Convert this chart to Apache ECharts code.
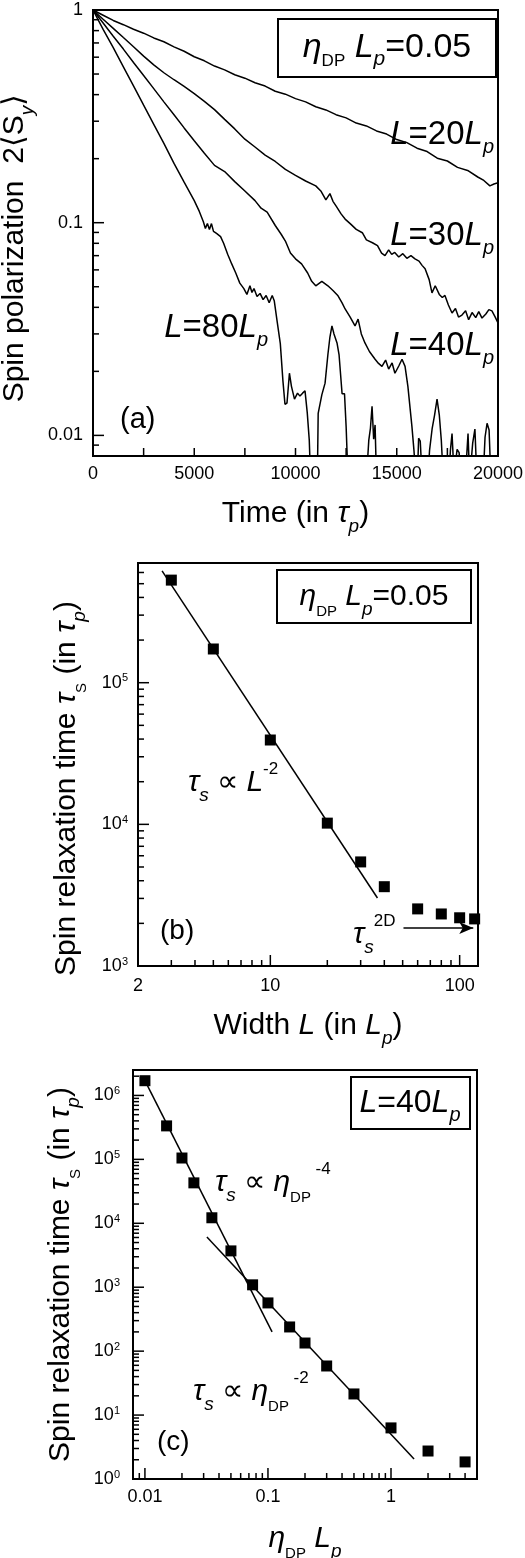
<!DOCTYPE html>
<html>
<head>
<meta charset="utf-8">
<title>Spin relaxation</title>
<script src="https://cdn.jsdelivr.net/npm/echarts@6.0.0/dist/echarts.min.js"></script>
<style>
  html, body { margin: 0; padding: 0; background: #fff; }
  #chart { width: 525px; height: 1558px; }
</style>
</head>
<body>
<div id="chart"></div>
<script>
var FONT = '"Liberation Sans", Arial, Helvetica, sans-serif';

// (a) spin polarization 2<Sy> vs time (in tau_p), one curve per wire width
var curveL20 = [
  [0, 1], [500, 0.945], [1000, 0.893], [1500, 0.853], [2000, 0.812], [2500, 0.778], [3000, 0.739],
  [3500, 0.709], [4000, 0.671], [4500, 0.640], [5000, 0.603], [5500, 0.577], [6000, 0.545],
  [6500, 0.523], [7000, 0.496], [7500, 0.478], [8000, 0.455], [8500, 0.439], [9000, 0.415],
  [9500, 0.402], [10000, 0.383], [10500, 0.370], [11000, 0.351], [11500, 0.339], [12000, 0.322],
  [12500, 0.311], [13000, 0.294], [13500, 0.285], [14000, 0.270], [14500, 0.261], [15000, 0.246],
  [15500, 0.238], [16000, 0.224], [16500, 0.216], [17000, 0.201], [17500, 0.195], [18000, 0.182],
  [18500, 0.176], [19000, 0.164], [19300, 0.158], [19600, 0.149], [19800, 0.152], [20000, 0.154]
];
var curveL30 = [
  [0, 1], [500, 0.905], [1000, 0.82], [1500, 0.742], [2000, 0.672], [2500, 0.607], [3000, 0.552],
  [3500, 0.507], [4000, 0.47], [4500, 0.437], [5000, 0.404], [5500, 0.372], [6000, 0.34],
  [6500, 0.306], [7000, 0.276], [7500, 0.247], [8000, 0.227], [8500, 0.208], [9000, 0.194],
  [9500, 0.178], [10000, 0.167], [10500, 0.157], [11000, 0.149], [11250, 0.141], [11500, 0.128],
  [11700, 0.137], [11850, 0.126], [12000, 0.12], [12250, 0.11], [12450, 0.104], [12700, 0.099],
  [13000, 0.093], [13300, 0.0897], [13500, 0.083], [13800, 0.0805], [14050, 0.078], [14250, 0.072],
  [14420, 0.070], [14600, 0.0745], [14750, 0.071], [14900, 0.0725], [15100, 0.069], [15300, 0.0715],
  [15500, 0.068], [15700, 0.070], [15900, 0.0676], [16100, 0.066], [16250, 0.063], [16400, 0.0607],
  [16600, 0.054], [16740, 0.0468], [16900, 0.0505], [17100, 0.046], [17250, 0.0445], [17380, 0.0455],
  [17550, 0.041], [17730, 0.0376], [17900, 0.0395], [18050, 0.036], [18220, 0.0368], [18400, 0.0385],
  [18550, 0.035], [18720, 0.0378], [18900, 0.0358], [19050, 0.0382], [19210, 0.0356], [19400, 0.0372],
  [19550, 0.039], [19700, 0.0385], [19850, 0.0362], [20000, 0.0338]
];
var curveL40 = [
  [0, 1], [500, 0.868], [1000, 0.752], [1500, 0.655], [2000, 0.566], [2500, 0.492], [3000, 0.427],
  [3500, 0.37], [4000, 0.322], [4500, 0.279], [5000, 0.243], [5500, 0.212], [6000, 0.186],
  [6500, 0.174], [7000, 0.156], [7500, 0.141], [8000, 0.127], [8300, 0.117], [8600, 0.112],
  [9000, 0.097], [9300, 0.088], [9500, 0.082], [9750, 0.072], [10000, 0.0676], [10300, 0.064],
  [10600, 0.058], [10800, 0.053], [11000, 0.0505], [11300, 0.053], [11600, 0.0505], [11850, 0.048],
  [12100, 0.0453], [12300, 0.042], [12450, 0.0393], [12700, 0.036], [12940, 0.0327], [13090, 0.0352],
  [13250, 0.030], [13430, 0.0272], [13650, 0.0248], [13930, 0.0228], [14100, 0.0218], [14270, 0.0211],
  [14450, 0.0226], [14600, 0.0205], [14770, 0.0219], [14910, 0.0196], [15100, 0.0212], [15260, 0.0228],
  [15410, 0.0211], [15550, 0.017], [15750, 0.011], [15850, 0.0085], [15950, 0.0062], [16000, 0.0055],
  [16080, 0.0097], [16160, 0.0094], [16260, 0.0062], [16500, 0.0055], [16620, 0.0085], [16750, 0.0108],
  [16870, 0.0125], [16990, 0.0148], [17100, 0.0125], [17200, 0.0095], [17300, 0.0062], [17550, 0.0058],
  [17650, 0.0085], [17730, 0.0102], [17830, 0.0065], [17980, 0.0086], [18080, 0.0083], [18180, 0.006],
  [18400, 0.0066], [18520, 0.0102], [18600, 0.0062], [18750, 0.0092], [18860, 0.0107], [18960, 0.0062],
  [19250, 0.0058], [19360, 0.0098], [19460, 0.0114], [19560, 0.0106], [19650, 0.0062], [20000, 0.0055]
];
var curveL80 = [
  [0, 1], [500, 0.81], [1000, 0.665], [1500, 0.54], [2000, 0.44], [2500, 0.357], [3000, 0.29],
  [3500, 0.236], [4000, 0.19], [4500, 0.155], [5000, 0.127], [5250, 0.113], [5450, 0.101],
  [5550, 0.094], [5650, 0.099], [5750, 0.093], [5850, 0.099], [5950, 0.091], [6100, 0.089],
  [6300, 0.086], [6450, 0.08], [6650, 0.071], [6850, 0.064], [7050, 0.058], [7250, 0.052],
  [7450, 0.049], [7600, 0.046], [7750, 0.0505], [7850, 0.047], [7950, 0.049], [8100, 0.045],
  [8250, 0.0465], [8400, 0.0435], [8550, 0.0455], [8700, 0.042], [8850, 0.0455], [8950, 0.043],
  [9100, 0.034], [9250, 0.027], [9380, 0.018], [9480, 0.014], [9580, 0.0142], [9700, 0.0196],
  [9800, 0.017], [9950, 0.0148], [10100, 0.0158], [10220, 0.0153], [10350, 0.0158], [10470, 0.0162],
  [10580, 0.0128], [10680, 0.0095], [10750, 0.006], [10950, 0.005], [11080, 0.0062], [11120, 0.0127],
  [11300, 0.0155], [11460, 0.0176], [11600, 0.024], [11700, 0.029], [11800, 0.0327], [11900, 0.03],
  [12050, 0.0272], [12150, 0.024], [12300, 0.0157], [12420, 0.0157], [12500, 0.011], [12600, 0.006],
  [12900, 0.0045], [13400, 0.0048], [13500, 0.0062], [13620, 0.0095], [13700, 0.0108], [13780, 0.0137],
  [13860, 0.0096], [13930, 0.0112], [14000, 0.0062], [14300, 0.0045]
];

// (b) spin relaxation time vs wire width
var widthL = [3, 5, 10, 20, 30, 40, 60, 80, 100, 120];
var tauWidth = [5.3e5, 1.73e5, 3.94e4, 1.02e4, 5.43e3, 3.63e3, 2.53e3, 2.33e3, 2.19e3, 2.15e3];
var fitWidth = [[2.68, 6.16e5], [36.8, 3.02e3]];
var arrow2D = [[50.5, 1855], [118, 1855]];

// (c) spin relaxation time vs eta_DP L_p
var etaDP = [0.01, 0.015, 0.02, 0.025, 0.035, 0.05, 0.075, 0.1, 0.15, 0.2, 0.3, 0.5, 1, 2, 4];
var tauEta = [1.7e6, 3.34e5, 1.05e5, 4.29e4, 1.22e4, 3.7e3, 1.09e3, 568, 239, 134, 58.6, 21.4, 6.3, 2.74, 1.85];
var fitEta4 = [[0.01, 1.7e6], [0.108, 200]];
var fitEta2 = [[0.0319, 6.1e3], [1.54, 2.06]];

// ticks and labels
var timeTicks = [0, 2500, 5000, 7500, 10000, 12500, 15000, 17500, 20000];
var timeLabels = [0, 5000, 10000, 15000, 20000];
var polDecades = [0.01, 0.1, 1];
var widthDecades = [10, 100];
var widthLabels = [2, 10, 100];
var tauBDecades = [1e3, 1e4, 1e5];
var etaDecades = [0.01, 0.1, 1];
var tauCDecades = [1, 10, 100, 1e3, 1e4, 1e5, 1e6];

// 2..9 x 10^n between min and max
function minorTicks(min, max) {
  var out = [];
  for (var d = Math.floor(Math.log10(min)); d <= Math.ceil(Math.log10(max)); d++) {
    for (var k = 2; k <= 9; k++) {
      var v = +(k * Math.pow(10, d)).toPrecision(2);
      if (v > min && v < max) out.push(v);
    }
  }
  return out;
}

// rich text styles: sub/superscripts are shifted with line heights
function richFor(size, lh) {
  function f(extra) {
    return Object.assign({ fontFamily: FONT, color: '#000', fill: '#000' }, extra);
  }
  var small = Math.round(size * 0.5);
  var smallI = Math.round(size * 0.62);
  var supS = Math.round(size * 0.56);
  return {
    t: f({ fontSize: size, lineHeight: lh }),
    i: f({ fontSize: size, lineHeight: lh, fontStyle: 'italic' }),
    dp: f({ fontSize: small, lineHeight: lh - 20, verticalAlign: 'bottom' }),
    p: f({ fontSize: smallI, lineHeight: lh - 16, verticalAlign: 'bottom', fontStyle: 'italic' }),
    sup: f({ fontSize: supS, lineHeight: lh - 16, verticalAlign: 'top' }),
    supH: f({ fontSize: supS, lineHeight: lh - 26, verticalAlign: 'top' }),
    supHi: f({ fontSize: supS, lineHeight: lh - 30, verticalAlign: 'top' })
  };
}

function powLabel(v) {
  return '10{sup|' + Math.round(Math.log10(v)) + '}';
}
function plainLabel(v) {
  return String(+(+v).toPrecision(2));
}

function mainAxis(o) {
  return {
    type: o.type, gridIndex: o.grid, min: o.min, max: o.max, position: o.pos, z: 4,
    name: o.name, nameLocation: 'middle', nameGap: o.nameGap,
    nameTextStyle: { fontFamily: FONT, fontSize: 30, lineHeight: 44, color: '#000',
      padding: [0, o.namePad || 0, 0, 0], rich: richFor(30, 44) },
    axisLine: { show: true, onZero: false, lineStyle: { color: '#000', width: 2 } },
    axisTick: { show: false },
    axisLabel: { show: true, customValues: o.labels, formatter: o.fmt, margin: o.margin,
      fontFamily: FONT, fontSize: 18, lineHeight: 20, color: '#000',
      rich: { sup: { fontFamily: FONT, fontSize: 11, lineHeight: 11, verticalAlign: 'top', color: '#000' } } },
    splitLine: { show: false },
    silent: true
  };
}

// inward tick marks, placed through the axes' own scales
function tickSeries(dir, xi, yi, edge, values, len) {
  return {
    type: 'custom', xAxisIndex: xi, yAxisIndex: yi, silent: true, z: 5, clip: false,
    data: values.map(function (v) { return dir === 'y' ? [edge, v] : [v, edge]; }),
    renderItem: function (params, api) {
      var p = api.coord([api.value(0), api.value(1)]);
      var shape = dir === 'y'
        ? { x1: p[0], y1: p[1], x2: p[0] + len, y2: p[1] }
        : { x1: p[0], y1: p[1], x2: p[0], y2: p[1] - len };
      return { type: 'line', shape: shape, style: { stroke: '#000', lineWidth: 1.5 } };
    }
  };
}

function note(x, y, text, size, align) {
  return {
    type: 'text', x: x, y: y, silent: true,
    style: {
      text: text, fill: '#000', fontFamily: FONT, fontSize: size,
      align: align, verticalAlign: 'middle', textAlign: align, textVerticalAlign: 'middle',
      rich: richFor(size, 44)
    }
  };
}
function box(x, y, w, h) {
  return {
    type: 'rect', silent: true, shape: { x: x, y: y, width: w, height: h },
    style: { fill: 'transparent', stroke: '#000', lineWidth: 2 }
  };
}

function curve(data) {
  return {
    type: 'line', xAxisIndex: 0, yAxisIndex: 0, data: data, showSymbol: false, symbol: 'none',
    clip: true, lineStyle: { color: '#000', width: 1.5 }, silent: true
  };
}
function fitLine(data, xi, yi) {
  return {
    type: 'line', xAxisIndex: xi, yAxisIndex: yi, data: data, symbol: 'none',
    lineStyle: { color: '#000', width: 1.5 }, silent: true
  };
}
function squares(xs, ys, xi, yi) {
  return {
    type: 'scatter', xAxisIndex: xi, yAxisIndex: yi, symbol: 'rect', symbolSize: 11,
    itemStyle: { color: '#000', opacity: 1 }, silent: true, z: 3,
    data: xs.map(function (x, i) { return [x, ys[i]]; })
  };
}

var gridStyle = { show: true, borderColor: '#000', borderWidth: 2, backgroundColor: 'transparent',
  containLabel: false, outerBoundsMode: 'none' };

var legendEta = '{i|η}{dp|DP}{t| }{i|L}{p|p}{t|=0.05}';
var tauTitle = '{t|Spin relaxation time }{i|τ}{dp|S}{t| (in }{i|τ}{p|p}{t|)}';

var chart = echarts.init(document.getElementById('chart'), null, { renderer: 'canvas' });
chart.setOption({
  animation: false,
  backgroundColor: '#fff',
  textStyle: { fontFamily: FONT },
  grid: [
    Object.assign({ left: 93, top: 10, width: 405, height: 446 }, gridStyle),
    Object.assign({ left: 138, top: 563, width: 340, height: 403 }, gridStyle),
    Object.assign({ left: 133, top: 1070, width: 344, height: 409 }, gridStyle)
  ],
  xAxis: [
    mainAxis({ type: 'value', grid: 0, min: 0, max: 20000, pos: 'bottom',
      labels: timeLabels, fmt: function (v) { return String(v); }, margin: 8,
      name: '{t|Time (in }{i|τ}{p|p}{t|)}', nameGap: 36 }),
    mainAxis({ type: 'log', grid: 1, min: 2, max: 125, pos: 'bottom',
      labels: widthLabels, fmt: plainLabel, margin: 10,
      name: '{t|Width }{i|L}{t| (in }{i|L}{p|p}{t|)}', nameGap: 38 }),
    mainAxis({ type: 'log', grid: 2, min: 0.008, max: 5, pos: 'bottom',
      labels: etaDecades, fmt: plainLabel, margin: 8,
      name: '{i|η}{dp|DP}{t| }{i|L}{p|p}', nameGap: 38 })
  ],
  yAxis: [
    mainAxis({ type: 'log', grid: 0, min: 0.008, max: 1, pos: 'left',
      labels: polDecades, fmt: plainLabel, margin: 10,
      name: '{t|Spin polarization  2⟨S}{p|y}{t|⟩}', nameGap: 39, namePad: 30 }),
    mainAxis({ type: 'log', grid: 1, min: 1e3, max: 7e5, pos: 'left',
      labels: tauBDecades, fmt: powLabel, margin: 10,
      name: tauTitle, nameGap: 49, namePad: 48 }),
    mainAxis({ type: 'log', grid: 2, min: 1, max: 2.5e6, pos: 'left',
      labels: tauCDecades, fmt: powLabel, margin: 13,
      name: tauTitle, nameGap: 44 })
  ],
  series: [
    curve(curveL20),
    curve(curveL30),
    curve(curveL40),
    curve(curveL80),
    squares(widthL, tauWidth, 1, 1),
    Object.assign(fitLine(fitWidth, 1, 1), {
      markLine: {
        silent: true, symbol: ['none', 'arrow'], symbolSize: [9, 14],
        label: { show: false },
        lineStyle: { color: '#000', width: 1.5, type: 'solid' },
        data: [[{ coord: arrow2D[0] }, { coord: arrow2D[1] }]]
      }
    }),
    squares(etaDP, tauEta, 2, 2),
    fitLine(fitEta4, 2, 2),
    fitLine(fitEta2, 2, 2),

    // tick marks
    tickSeries('x', 0, 0, 0.008, timeTicks, 8),
    tickSeries('y', 0, 0, 0, polDecades, 11),
    tickSeries('y', 0, 0, 0, minorTicks(0.008, 1), 6),
    tickSeries('x', 1, 1, 1e3, widthDecades, 11),
    tickSeries('x', 1, 1, 1e3, minorTicks(2, 125), 6),
    tickSeries('y', 1, 1, 2, tauBDecades, 11),
    tickSeries('y', 1, 1, 2, minorTicks(1e3, 7e5), 6),
    tickSeries('x', 2, 2, 1, etaDecades, 11),
    tickSeries('x', 2, 2, 1, minorTicks(0.008, 5), 6),
    tickSeries('y', 2, 2, 0.008, tauCDecades, 11),
    tickSeries('y', 2, 2, 0.008, minorTicks(1, 2.5e6), 6)
  ],
  graphic: [
    box(278, 19, 218, 58),
    note(387, 48, legendEta, 34, 'center'),
    note(494, 135, '{i|L}{t|=20}{i|L}{p|p}', 33, 'right'),
    note(494, 236, '{i|L}{t|=30}{i|L}{p|p}', 33, 'right'),
    note(494, 346, '{i|L}{t|=40}{i|L}{p|p}', 33, 'right'),
    note(268, 328, '{i|L}{t|=80}{i|L}{p|p}', 33, 'right'),
    note(120, 420, '{t|(a)}', 29, 'left'),

    box(277, 570, 194, 53),
    note(374, 597, legendEta, 30, 'center'),
    note(188, 783, '{i|τ}{p|s}{t| ∝ }{i|L}{sup|-2}', 30, 'left'),
    note(160, 931, '{t|(b)}', 28, 'left'),
    note(353, 935, '{i|τ}{p|s}{supHi|2D}', 30, 'left'),

    box(351, 1077, 119, 52),
    note(410, 1103, '{i|L}{t|=40}{i|L}{p|p}', 32, 'center'),
    note(215, 1183, '{i|τ}{p|s}{t| ∝ }{i|η}{dp|DP}{supH| -4}', 30, 'left'),
    note(193, 1392, '{i|τ}{p|s}{t| ∝ }{i|η}{dp|DP}{supH| -2}', 30, 'left'),
    note(157, 1442, '{t|(c)}', 28, 'left')
  ]
});
</script>
</body>
</html>
